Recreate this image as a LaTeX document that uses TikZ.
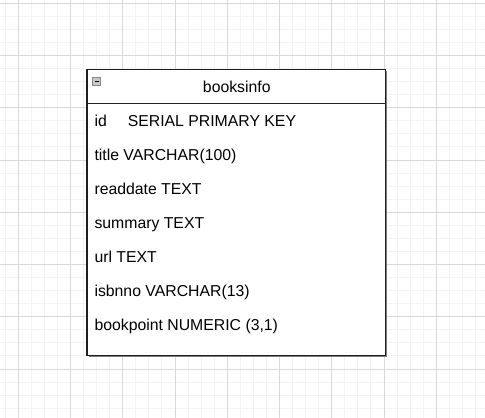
\documentclass[tikz,border=0pt]{standalone}
\usepackage{fontspec}
\setmainfont{Liberation Sans}
\usetikzlibrary{positioning,calc}
\definecolor{gridminor}{RGB}{243,243,243}
\definecolor{gridmajor}{RGB}{217,217,217}
\definecolor{tableline}{RGB}{30,30,30}
\definecolor{tableshade}{RGB}{125,125,125}
\definecolor{iconfill}{RGB}{200,200,206}
\definecolor{iconline}{RGB}{135,135,145}

\begin{document}
\begin{tikzpicture}[x=1pt,y=-1pt,
  rowtext/.style={anchor=base west,inner sep=0pt,font=\fontsize{15.8}{18}\selectfont},
  headtext/.style={anchor=base,inner sep=0pt,font=\fontsize{15.8}{18}\selectfont}]
  \useasboundingbox (0,0) rectangle (485,418);
  \fill[white] (0,0) rectangle (485,418);
  \foreach \i in {0,...,36} \draw[gridminor,line width=1pt] ({5.24+13.0625*\i},0) -- ++(0,418);
  \foreach \j in {0,...,31} \draw[gridminor,line width=1pt] (0,{3.3+13.0625*\j}) -- ++(485,0);
  \foreach \i in {0,...,8} \draw[gridmajor,line width=1pt] ({18.3+52.25*\i},0) -- ++(0,418);
  \foreach \j in {0,...,7} \draw[gridmajor,line width=1pt] (0,{3.3+52.25*\j}) -- ++(485,0);
  \coordinate (tl) at (87,69.5);
  \coordinate (br) at (385.5,355.5);
  \fill[white] (tl) rectangle (br);
  \draw[tableshade,line width=1.2pt] (386.8,71) -- (386.8,356.8) -- (88.5,356.8);
  \draw[tableline,line width=1.3pt] (tl) rectangle (br);
  \draw[tableline,line width=1.3pt] (87,103.3) -- (385.5,103.3);
  \draw[iconline,fill=iconfill,line width=0.8pt] (92.8,77.5) rectangle (100.8,85.5);
  \draw[black,line width=1.1pt] (94.5,81.5) -- (99.1,81.5);
  \node[headtext] (title) at (236.8,92.3) {booksinfo};
  \foreach \k/\txt in {1/{id\hspace*{21pt}SERIAL PRIMARY KEY},
                       2/{title VARCHAR(100)},
                       3/{readdate TEXT},
                       4/{summary TEXT},
                       5/{url TEXT},
                       6/{isbnno VARCHAR(13)},
                       7/{bookpoint NUMERIC (3,1)}}
    \node[rowtext] (r\k) at (94.3,{126.3+33.95*(\k-1)}) {\txt};
\end{tikzpicture}
\end{document}
